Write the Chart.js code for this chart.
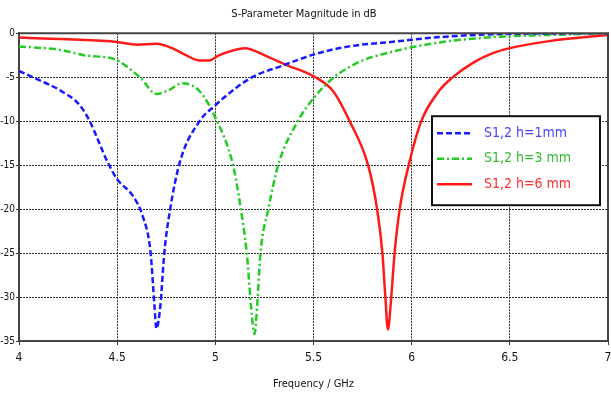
<!DOCTYPE html>
<html>
<head>
<meta charset="utf-8">
<script src="https://cdn.jsdelivr.net/npm/chart.js@4.4.1/dist/chart.umd.min.js"></script>
<style>
  html, body { margin: 0; padding: 0; background: #fff; }
  #wrap { width: 611px; height: 399px; }
</style>
</head>
<body>
<div id="wrap"><canvas id="sparamChart" width="611" height="399"></canvas></div>
<script>
  // series values (GHz / dB)
  var blueFreq = [4.0, 4.1, 4.21, 4.31, 4.36, 4.45, 4.5, 4.58, 4.63, 4.67, 4.69, 4.70, 4.72, 4.74, 4.77, 4.82, 4.92, 5.0, 5.04, 5.18, 5.34, 5.52, 5.68, 5.94, 6.11, 6.45, 7.0];
  var blueDb   = [-4.3, -5.3, -6.5, -8.2, -10, -14.6, -16.6, -18.5, -20.8, -24.9, -31, -33.6, -31, -25, -20, -14.6, -10, -8.2, -7.4, -5.1, -3.7, -2.3, -1.5, -0.9, -0.5, -0.1, 0];

  var greenFreq = [4.0, 4.21, 4.33, 4.48, 4.51, 4.62, 4.70, 4.76, 4.83, 4.92, 5.0, 5.09, 5.13, 5.16, 5.19, 5.2, 5.21, 5.23, 5.27, 5.32, 5.42, 5.5, 5.6, 5.74, 5.94, 6.0, 6.19, 6.45, 6.7, 7.0];
  var greenDb   = [-1.5, -1.9, -2.5, -2.9, -3.2, -5.1, -6.9, -6.5, -5.7, -6.6, -9.6, -15, -20, -25, -33, -34.2, -32, -25, -20, -15, -10, -7.4, -5.1, -3.2, -1.9, -1.6, -0.9, -0.4, -0.2, 0];

  var redFreq = [4.0, 4.25, 4.5, 4.6, 4.7, 4.78, 4.85, 4.92, 4.97, 5.02, 5.15, 5.26, 5.36, 5.5, 5.6, 5.684, 5.778, 5.824, 5.851, 5.866, 5.879, 5.896, 5.913, 5.939, 5.985, 6.049, 6.142, 6.21, 6.31, 6.41, 6.5, 6.7, 7.0];
  var redDb   = [-0.5, -0.7, -1.0, -1.3, -1.2, -1.7, -2.5, -3.1, -3.1, -2.5, -1.7, -2.6, -3.6, -4.9, -6.6, -10, -15, -20, -25, -30, -33.7, -30, -25, -20, -15, -10, -6.5, -5, -3.4, -2.3, -1.7, -0.9, -0.2];

  var seriesNames = ['S1,2 h=1mm', 'S1,2 h=3 mm', 'S1,2 h=6 mm'];
  var xTicks = [4, 4.5, 5, 5.5, 6, 6.5, 7];
  var yTicks = [0, -5, -10, -15, -20, -25, -30, -35];

  var narrow = "'Liberation Sans Narrow', 'DejaVu Sans Condensed', 'Roboto Condensed', 'Arial Narrow', 'Liberation Sans', sans-serif";

  function toPoints(xs, ys) {
    return xs.map(function(x, i) { return { x: x, y: ys[i] }; });
  }

  // frame on top/right + legend box inside the plot
  var frameAndLegend = {
    id: 'frameAndLegend',
    afterDatasetsDraw: function(chart) {
      var ctx = chart.ctx;
      var a = chart.chartArea;
      ctx.save();
      ctx.strokeStyle = '#444';
      ctx.lineWidth = 2;
      ctx.setLineDash([]);
      ctx.beginPath();
      ctx.moveTo(a.left, a.top);
      ctx.lineTo(a.right, a.top);
      ctx.lineTo(a.right, a.bottom);
      ctx.stroke();

      var bx = a.right - 176, by = a.top + 83, bw = 168, bh = 89;
      ctx.fillStyle = '#fff';
      ctx.fillRect(bx, by, bw, bh);
      ctx.strokeStyle = '#111';
      ctx.lineWidth = 2;
      ctx.strokeRect(bx, by, bw, bh);

      var textColors = ['#4646ff', '#33bb33', '#ff3030'];
      ctx.font = '14px ' + narrow;
      ctx.textBaseline = 'middle';
      chart.data.datasets.forEach(function(ds, i) {
        var yy = by + 17 + i * 25.5;
        ctx.strokeStyle = ds.borderColor;
        ctx.lineWidth = ds.borderWidth;
        ctx.setLineDash(ds.borderDash || []);
        ctx.beginPath();
        ctx.moveTo(bx + 5, yy);
        ctx.lineTo(bx + 40, yy);
        ctx.stroke();
        ctx.fillStyle = textColors[i];
        ctx.fillText(ds.label, bx + 52, yy);
      });
      ctx.restore();
    }
  };

  var ctx = document.getElementById('sparamChart').getContext('2d');
  var chart = new Chart(ctx, {
    type: 'line',
    data: {
      datasets: [{
        label: seriesNames[0],
        data: toPoints(blueFreq, blueDb),
        borderColor: '#1a1aff',
        borderWidth: 2.5,
        borderDash: [6, 3]
      }, {
        label: seriesNames[1],
        data: toPoints(greenFreq, greenDb),
        borderColor: '#22cc22',
        borderWidth: 2.5,
        borderDash: [7, 3, 2, 3]
      }, {
        label: seriesNames[2],
        data: toPoints(redFreq, redDb),
        borderColor: '#ff1a1a',
        borderWidth: 2.5
      }]
    },
    options: {
      responsive: false,
      animation: false,
      layout: { padding: { right: 3, left: 0 } },
      elements: {
        point: { radius: 0 },
        line: { cubicInterpolationMode: 'monotone', fill: false }
      },
      plugins: {
        legend: { display: false },
        tooltip: { enabled: false },
        title: {
          display: true,
          text: 'S-Parameter Magnitude in dB',
          color: '#111',
          font: { family: narrow, size: 11, weight: 'normal' },
          padding: { top: 8, bottom: 12 }
        }
      },
      scales: {
        x: {
          type: 'linear',
          min: 4,
          max: 7,
          afterBuildTicks: function(s) { s.ticks = xTicks.map(function(v) { return { value: v }; }); },
          afterFit: function(s) { s.height = 58; s.paddingLeft = 0; s.paddingRight = 0; },
          ticks: {
            color: '#111',
            font: { family: narrow, size: 12 },
            padding: 6,
            maxRotation: 0,
            callback: function(v) { return String(v); }
          },
          grid: {
            color: '#333',
            tickLength: 4,
            tickColor: '#333'
          },
          border: { color: '#444', width: 2, dash: [2, 1] },
          title: {
            display: true,
            text: 'Frequency / GHz',
            color: '#111',
            font: { family: narrow, size: 11 },
            padding: { top: 4, bottom: 8 }
          }
        },
        y: {
          type: 'linear',
          min: -35,
          max: 0,
          afterBuildTicks: function(s) { s.ticks = yTicks.map(function(v) { return { value: v }; }); },
          afterFit: function(s) { s.width = 19; },
          ticks: {
            color: '#111',
            font: { family: narrow, size: 10 },
            padding: 1
          },
          grid: {
            color: '#333',
            tickLength: 3,
            tickColor: '#333'
          },
          border: { color: '#444', width: 2, dash: [2, 1] }
        }
      }
    },
    plugins: [frameAndLegend]
  });
</script>
</body>
</html>
